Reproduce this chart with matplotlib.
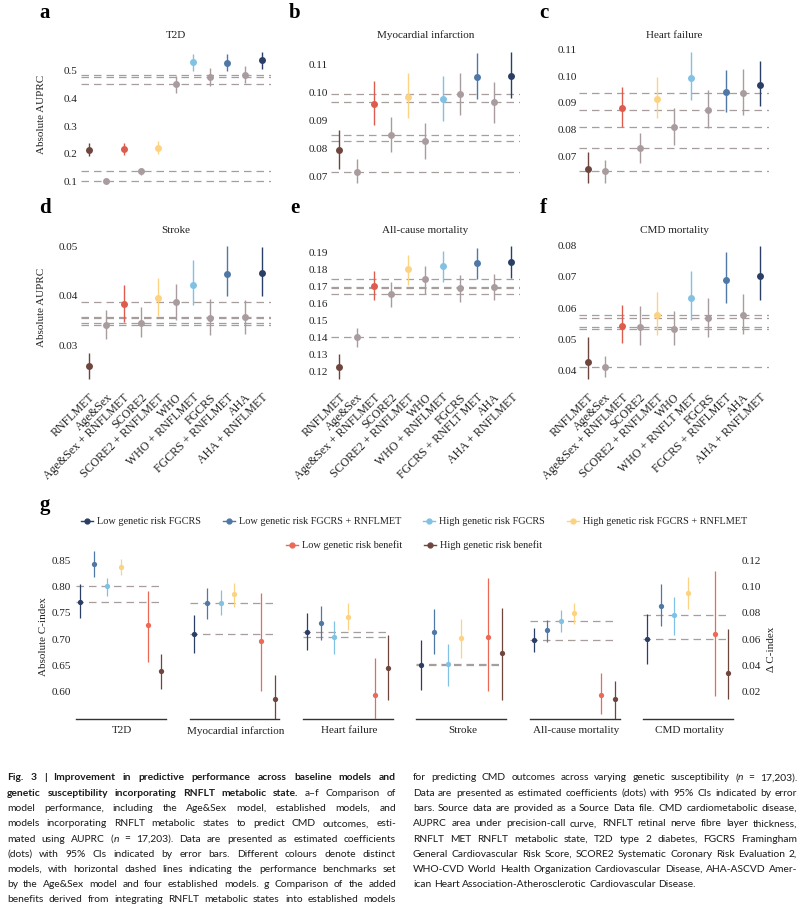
import matplotlib
matplotlib.use('Agg')
import matplotlib.pyplot as plt
from matplotlib.lines import Line2D

plt.rcParams['font.family'] = ['Liberation Serif', 'DejaVu Serif']
plt.rcParams['font.size'] = 8
plt.rcParams['text.color'] = '#222222'
plt.rcParams['xtick.color'] = '#222222'
plt.rcParams['ytick.color'] = '#222222'

W, H = 809, 907

brown = '#6f463d'
grey = '#a99c9e'
red = '#dc5c4e'
yellow = '#fcd283'
light = '#80c1e4'
steel = '#4f78a6'
navy = '#2b3e66'
coral = '#ec6a55'
dash_grey = '#a79d9d'

# ---- panels a-f: AUPRC estimate with 95% CI ----
models = ['RNFLMET', 'Age&Sex', 'Age&Sex + RNFLMET', 'SCORE2', 'SCORE2 + RNFLMET',
          'WHO', 'WHO + RNFLMET', 'FGCRS', 'FGCRS + RNFLMET', 'AHA', 'AHA + RNFLMET']
model_colors = [brown, grey, red, grey, yellow, grey, light, grey, steel, grey, navy]
baseline_models = ['Age&Sex', 'SCORE2', 'WHO', 'FGCRS', 'AHA']

xlabels_d = models
xlabels_e = ['RNFLMET', 'Age&Sex', 'Age&Sex + RNFLMET', 'SCORE2', 'SCORE2 + RNFLMET',
             'WHO', 'WHO + RNFLMET', 'FGCRS', 'FGCRS + RNFLT MET', 'AHA', 'AHA + RNFLMET']
xlabels_f = ['RNFLMET', 'Age&Sex', 'Age&Sex + RNFLMET', 'SCORE2', 'SCORE2 + RNFLMET',
             'WHO', 'WHO + RNFLT MET', 'FGCRS', 'FGCRS + RNFLMET', 'AHA', 'AHA + RNFLMET']

t2d_est = [0.215, 0.100, 0.218, 0.136, 0.222, 0.452, 0.531, 0.477, 0.530, 0.486, 0.540]
t2d_lo = [0.193, 0.094, 0.195, 0.122, 0.199, 0.421, 0.501, 0.444, 0.501, 0.455, 0.508]
t2d_hi = [0.238, 0.106, 0.240, 0.149, 0.246, 0.482, 0.562, 0.511, 0.562, 0.517, 0.569]

mi_est = [0.0796, 0.0718, 0.0959, 0.0851, 0.0987, 0.0827, 0.0977, 0.0996, 0.1058, 0.0966, 0.1062]
mi_lo = [0.0727, 0.0676, 0.0886, 0.0790, 0.0911, 0.0764, 0.0901, 0.0922, 0.0978, 0.0893, 0.0983]
mi_hi = [0.0867, 0.0762, 0.1043, 0.0914, 0.1071, 0.0891, 0.1059, 0.1071, 0.1143, 0.1039, 0.1147]

hf_est = [0.0654, 0.0647, 0.0880, 0.0732, 0.0915, 0.0811, 0.0993, 0.0874, 0.0940, 0.0937, 0.0966]
hf_lo = [0.0601, 0.0603, 0.0811, 0.0676, 0.0845, 0.0745, 0.0912, 0.0806, 0.0868, 0.0857, 0.0889]
hf_hi = [0.0717, 0.0686, 0.0960, 0.0788, 0.0997, 0.0881, 0.1090, 0.0948, 0.1024, 0.1028, 0.1057]

stroke_est = [0.0259, 0.0342, 0.0384, 0.0346, 0.0396, 0.0387, 0.0422, 0.0355, 0.0443, 0.0357, 0.0445]
stroke_lo = [0.0234, 0.0314, 0.0348, 0.0317, 0.0360, 0.0352, 0.0382, 0.0321, 0.0400, 0.0323, 0.0400]
stroke_hi = [0.0285, 0.0372, 0.0421, 0.0378, 0.0436, 0.0424, 0.0472, 0.0394, 0.0500, 0.0392, 0.0498]

acm_est = [0.1229, 0.1404, 0.1704, 0.1655, 0.1804, 0.1743, 0.1820, 0.1690, 0.1839, 0.1698, 0.1847]
acm_lo = [0.1159, 0.1347, 0.1624, 0.1582, 0.1710, 0.1655, 0.1729, 0.1608, 0.1745, 0.1620, 0.1753]
acm_hi = [0.1304, 0.1459, 0.1792, 0.1727, 0.1884, 0.1820, 0.1910, 0.1767, 0.1927, 0.1773, 0.1939]

cmd_est = [0.0430, 0.0413, 0.0544, 0.0541, 0.0578, 0.0532, 0.0632, 0.0567, 0.0688, 0.0577, 0.0701]
cmd_lo = [0.0376, 0.0380, 0.0490, 0.0483, 0.0515, 0.0483, 0.0563, 0.0509, 0.0616, 0.0517, 0.0625]
cmd_hi = [0.0509, 0.0449, 0.0610, 0.0606, 0.0651, 0.0590, 0.0719, 0.0633, 0.0778, 0.0644, 0.0797]

# ---- panel g: C-index by genetic risk, and added benefit (right axis) ----
outcomes = ['T2D', 'Myocardial infarction', 'Heart failure', 'Stroke',
            'All-cause mortality', 'CMD mortality']
series_names = ['Low genetic risk FGCRS', 'Low genetic risk FGCRS + RNFLMET',
                'High genetic risk FGCRS', 'High genetic risk FGCRS + RNFLMET']
benefit_names = ['Low genetic risk benefit', 'High genetic risk benefit']

low_fgcrs = [0.7715, 0.7095, 0.7139, 0.650, 0.6975, 0.6994]
low_fgcrs_lo = [0.740, 0.674, 0.6785, 0.604, 0.675, 0.652]
low_fgcrs_hi = [0.804, 0.745, 0.749, 0.6975, 0.721, 0.747]

low_met = [0.843, 0.7696, 0.7316, 0.714, 0.717, 0.764]
low_met_lo = [0.818, 0.739, 0.699, 0.6715, 0.695, 0.725]
low_met_hi = [0.867, 0.798, 0.764, 0.757, 0.737, 0.804]

high_fgcrs = [0.801, 0.7696, 0.7044, 0.652, 0.735, 0.7456]
high_fgcrs_lo = [0.782, 0.746, 0.672, 0.611, 0.714, 0.708]
high_fgcrs_hi = [0.817, 0.793, 0.7354, 0.690, 0.755, 0.781]

high_met = [0.837, 0.785, 0.743, 0.702, 0.750, 0.788]
high_met_lo = [0.822, 0.761, 0.7165, 0.664, 0.729, 0.758]
high_met_hi = [0.852, 0.806, 0.7696, 0.738, 0.7696, 0.8177]

low_benefit = [0.0704, 0.0587, 0.0172, 0.0620, 0.0177, 0.0640]
low_benefit_lo = [0.0428, 0.0205, -0.005, 0.0203, 0.0032, 0.0170]
low_benefit_hi = [0.0965, 0.0954, 0.0453, 0.1063, 0.0342, 0.1119]

high_benefit = [0.0354, 0.0144, 0.0377, 0.0497, 0.0144, 0.0344]
high_benefit_lo = [0.0223, -0.005, 0.0135, 0.0140, -0.005, 0.0144]
high_benefit_hi = [0.0486, 0.0327, 0.0628, 0.0835, 0.0281, 0.0680]

fig = plt.figure(figsize=(W / 100, H / 100), dpi=100)


def px_axes(left, top, right, bottom):
    return fig.add_axes([left / W, 1 - bottom / H, (right - left) / W, (bottom - top) / H])


def ylim_px(top, bottom, v1, p1, v2, p2):
    # value range so that v1 sits at pixel row p1 and v2 at p2
    k = (v1 - v2) / (p2 - p1)
    return v1 - (bottom - p1) * k, v1 + (p1 - top) * k


def clean(ax):
    for s in ax.spines.values():
        s.set_visible(False)
    ax.tick_params(length=0)


def draw_panel(ax, est, lo, hi, ticks, fmt, xlabels):
    for name in baseline_models:
        ax.axhline(est[models.index(name)], color=dash_grey, lw=0.9, dashes=(6, 4), zorder=1)
    for i in range(len(models)):
        ax.errorbar(i, est[i], yerr=[[est[i] - lo[i]], [hi[i] - est[i]]], fmt='o',
                    color=model_colors[i], ms=5, mec='none', elinewidth=1.0, capsize=0, zorder=3)
    ax.set_xlim(-0.5, len(models) - 0.5)
    ax.set_yticks(ticks)
    ax.set_yticklabels([fmt.format(t) for t in ticks])
    ax.tick_params(axis='y', pad=2)
    if xlabels is None:
        ax.set_xticks([])
    else:
        ax.set_xticks(range(len(models)))
        ax.set_xticklabels(xlabels, rotation=45, ha='right', rotation_mode='anchor', fontsize=8.6)
        ax.tick_params(axis='x', pad=4)
    clean(ax)


cols = [(80.5, 270.5), (330.7, 520.0), (579.4, 768.6)]
rows = [(45, 192), (240, 386)]

panels = [
    ('a', 'T2D', t2d_est, t2d_lo, t2d_hi, [0.1, 0.2, 0.3, 0.4, 0.5], '{:.1f}', None,
     (0.5, 71, 0.1, 181.3)),
    ('b', 'Myocardial infarction', mi_est, mi_lo, mi_hi, [0.07, 0.08, 0.09, 0.10, 0.11], '{:.2f}', None,
     (0.11, 65, 0.07, 176.7)),
    ('c', 'Heart failure', hf_est, hf_lo, hf_hi, [0.07, 0.08, 0.09, 0.10, 0.11], '{:.2f}', None,
     (0.11, 49.3, 0.07, 156.7)),
    ('d', 'Stroke', stroke_est, stroke_lo, stroke_hi, [0.03, 0.04, 0.05], '{:.2f}', xlabels_d,
     (0.05, 246, 0.03, 345.7)),
    ('e', 'All-cause mortality', acm_est, acm_lo, acm_hi,
     [0.12, 0.13, 0.14, 0.15, 0.16, 0.17, 0.18, 0.19], '{:.2f}', xlabels_e,
     (0.19, 252.7, 0.12, 371.7)),
    ('f', 'CMD mortality', cmd_est, cmd_lo, cmd_hi, [0.04, 0.05, 0.06, 0.07, 0.08], '{:.2f}', xlabels_f,
     (0.08, 245, 0.04, 371)),
]

for k, (letter, title, est, lo, hi, ticks, fmt, xl, ref) in enumerate(panels):
    left, right = cols[k % 3]
    top, bottom = rows[k // 3]
    ax = px_axes(left, top, right, bottom)
    draw_panel(ax, est, lo, hi, ticks, fmt, xl)
    ax.set_ylim(*ylim_px(top, bottom, *ref))
    ax.set_title(title, fontsize=8, pad=5)
    fig.text((left - 36) / W, 1 - (top - 32) / H, letter, fontsize=15, weight='bold',
             ha='center', va='center', color='black')

fig.text(42 / W, 1 - 114 / H, 'Absolute AUPRC', rotation=90, ha='center', va='center')
fig.text(42 / W, 1 - 307 / H, 'Absolute AUPRC', rotation=90, ha='center', va='center')

# ---- panel g ----
g_top, g_bot = 550, 719
axg = px_axes(75, g_top, 737, g_bot)
stride = 8.4
left_lim = ylim_px(g_top, g_bot, 0.85, 560.3, 0.60, 691.7)
axg.set_ylim(*left_lim)
axg.set_xlim(-0.39, 48.64)
axr = axg.twinx()
axr.set_ylim(*[0.02 + (v - 0.60) * 0.4 for v in left_lim])

left_series = [(low_fgcrs, low_fgcrs_lo, low_fgcrs_hi, navy),
               (low_met, low_met_lo, low_met_hi, steel),
               (high_fgcrs, high_fgcrs_lo, high_fgcrs_hi, light),
               (high_met, high_met_lo, high_met_hi, yellow)]
right_series = [(low_benefit, low_benefit_lo, low_benefit_hi, coral),
                (high_benefit, high_benefit_lo, high_benefit_hi, brown)]

for i, name in enumerate(outcomes):
    base = i * stride
    for ref in (low_fgcrs, high_fgcrs):
        axg.plot([base - 0.3, base + 6.05], [ref[i], ref[i]], color=dash_grey, lw=0.9,
                 dashes=(6, 4), zorder=1)
    for j, (est, lo, hi, c) in enumerate(left_series):
        axg.errorbar(base + j, est[i], yerr=[[est[i] - lo[i]], [hi[i] - est[i]]], fmt='o',
                     color=c, ms=3.8, mec='none', elinewidth=0.9, capsize=0, zorder=3)
    for j, (est, lo, hi, c) in enumerate(right_series):
        axr.errorbar(base + 5 + j, est[i], yerr=[[est[i] - lo[i]], [hi[i] - est[i]]], fmt='o',
                     color=c, ms=3.8, mec='none', elinewidth=0.9, capsize=0, zorder=3)
    axg.plot([base - 0.3, base + 6.35], [0, 0], transform=axg.get_xaxis_transform(),
             color='#333333', lw=1.0, clip_on=False)
    axg.annotate(name, (base + 3.1, 0), xycoords=axg.get_xaxis_transform(),
                 xytext=(0, -8.6), textcoords='offset points', ha='center', va='center')

g_left_ticks = [0.60, 0.65, 0.70, 0.75, 0.80, 0.85]
g_right_ticks = [0.02, 0.04, 0.06, 0.08, 0.10, 0.12]
axg.set_yticks(g_left_ticks)
axg.set_yticklabels(['{:.2f}'.format(t) for t in g_left_ticks])
axr.set_yticks(g_right_ticks)
axr.set_yticklabels(['{:.2f}'.format(t) for t in g_right_ticks])
axg.set_xticks([])
for a in (axg, axr):
    clean(a)
    a.tick_params(axis='y', pad=3)

fig.text(44 / W, 1 - 637 / H, 'Absolute C-index', rotation=90, ha='center', va='center')
fig.text(771 / W, 1 - 649 / H, 'Δ C-index', rotation=90, ha='center', va='center')
fig.text(45 / W, 1 - 505 / H, 'g', fontsize=15, weight='bold', ha='center', va='center',
         color='black')

h1 = [Line2D([], [], color=c, marker='o', ms=3.5, lw=1.0) for c in (navy, steel, light, yellow)]
fig.legend(h1, series_names, loc='center', bbox_to_anchor=(414 / W, 1 - 521.5 / H), ncol=4,
           frameon=False, handlelength=1.2, handletextpad=0.4, columnspacing=2.1, fontsize=7.4,
           borderaxespad=0, borderpad=0)
h2 = [Line2D([], [], color=c, marker='o', ms=3.5, lw=1.0) for c in (coral, brown)]
fig.legend(h2, benefit_names, loc='center', bbox_to_anchor=(414 / W, 1 - 545.5 / H), ncol=2,
           frameon=False, handlelength=1.2, handletextpad=0.4, columnspacing=2.1, fontsize=7.4,
           borderaxespad=0, borderpad=0)

# ---- caption, two justified columns ----
cap_font = ['Lato', 'DejaVu Sans']
cap_size = 7.5
B, N, I = 'b', 'n', 'i'

left_caption = [
    [('Fig. 3 | Improvement in predictive performance across baseline models and', B)],
    [('genetic susceptibility incorporating RNFLT metabolic state.', B), (' a–f Comparison of', N)],
    [('model performance, including the Age&Sex model, established models, and', N)],
    [('models incorporating RNFLT metabolic states to predict CMD outcomes, esti-', N)],
    [('mated using AUPRC (', N), ('n', I), (' = 17,203). Data are presented as estimated coefficients', N)],
    [('(dots) with 95% CIs indicated by error bars. Different colours denote distinct', N)],
    [('models, with horizontal dashed lines indicating the performance benchmarks set', N)],
    [('by the Age&Sex model and four established models. g Comparison of the added', N)],
    [('benefits derived from integrating RNFLT metabolic states into established models', N)],
]
right_caption = [
    [('for predicting CMD outcomes across varying genetic susceptibility (', N), ('n', I),
     (' = 17,203).', N)],
    [('Data are presented as estimated coefficients (dots) with 95% CIs indicated by error', N)],
    [('bars. Source data are provided as a Source Data file. CMD cardiometabolic disease,', N)],
    [('AUPRC area under precision-call curve, RNFLT retinal nerve fibre layer thickness,', N)],
    [('RNFLT MET RNFLT metabolic state, T2D type 2 diabetes, FGCRS Framingham', N)],
    [('General Cardiovascular Risk Score, SCORE2 Systematic Coronary Risk Evaluation 2,', N)],
    [('WHO-CVD World Health Organization Cardiovascular Disease, AHA-ASCVD Amer-', N)],
    [('ican Heart Association-Atherosclerotic Cardiovascular Disease.', N)],
]

renderer = fig.canvas.get_renderer()
styles = {B: dict(weight='bold'), N: dict(), I: dict(style='italic')}


def text_width(s, kind):
    t = fig.text(0, 0, s, family=cap_font, size=cap_size, **styles[kind])
    w = t.get_window_extent(renderer).width
    t.remove()
    return w


def split_words(parts):
    words = []
    join = False
    for text, kind in parts:
        for k, c in enumerate(text.split(' ')):
            if c and k == 0 and join and words:
                words[-1].append((c, kind))
            elif c:
                words.append([(c, kind)])
        join = not text.endswith(' ')
    return words


def natural_width(parts):
    words = split_words(parts)
    sp = text_width('a a', N) - text_width('aa', N)
    return sum(text_width(c, kind) for wd in words for c, kind in wd) + sp * (len(words) - 1)


# pick the font size so the widest line just fits its column
ratio = max([natural_width(p) / 389 for p in left_caption] +
            [natural_width(p) / 384 for p in right_caption[:-1]])
cap_size = cap_size / ratio * 0.985
space_w = text_width('a a', N) - text_width('aa', N)


def caption_line(x0, y, parts, width, justify=True):
    words = split_words(parts)
    sizes = [[text_width(c, kind) for c, kind in wd] for wd in words]
    total = sum(sum(s) for s in sizes)
    gap = (width - total) / (len(words) - 1) if justify else space_w
    x = x0
    for wd, s in zip(words, sizes):
        for (c, kind), w in zip(wd, s):
            fig.text(x / W, 1 - y / H, c, family=cap_font, size=cap_size, va='baseline',
                     color='#1a1a1a', **styles[kind])
            x += w
        x += gap


for n, parts in enumerate(left_caption):
    caption_line(7, 780.5 + n * 15.25, parts, 389)
for n, parts in enumerate(right_caption):
    caption_line(413, 780.5 + n * 15.25, parts, 384, justify=n < len(right_caption) - 1)

fig.savefig('out.png', dpi=100)
